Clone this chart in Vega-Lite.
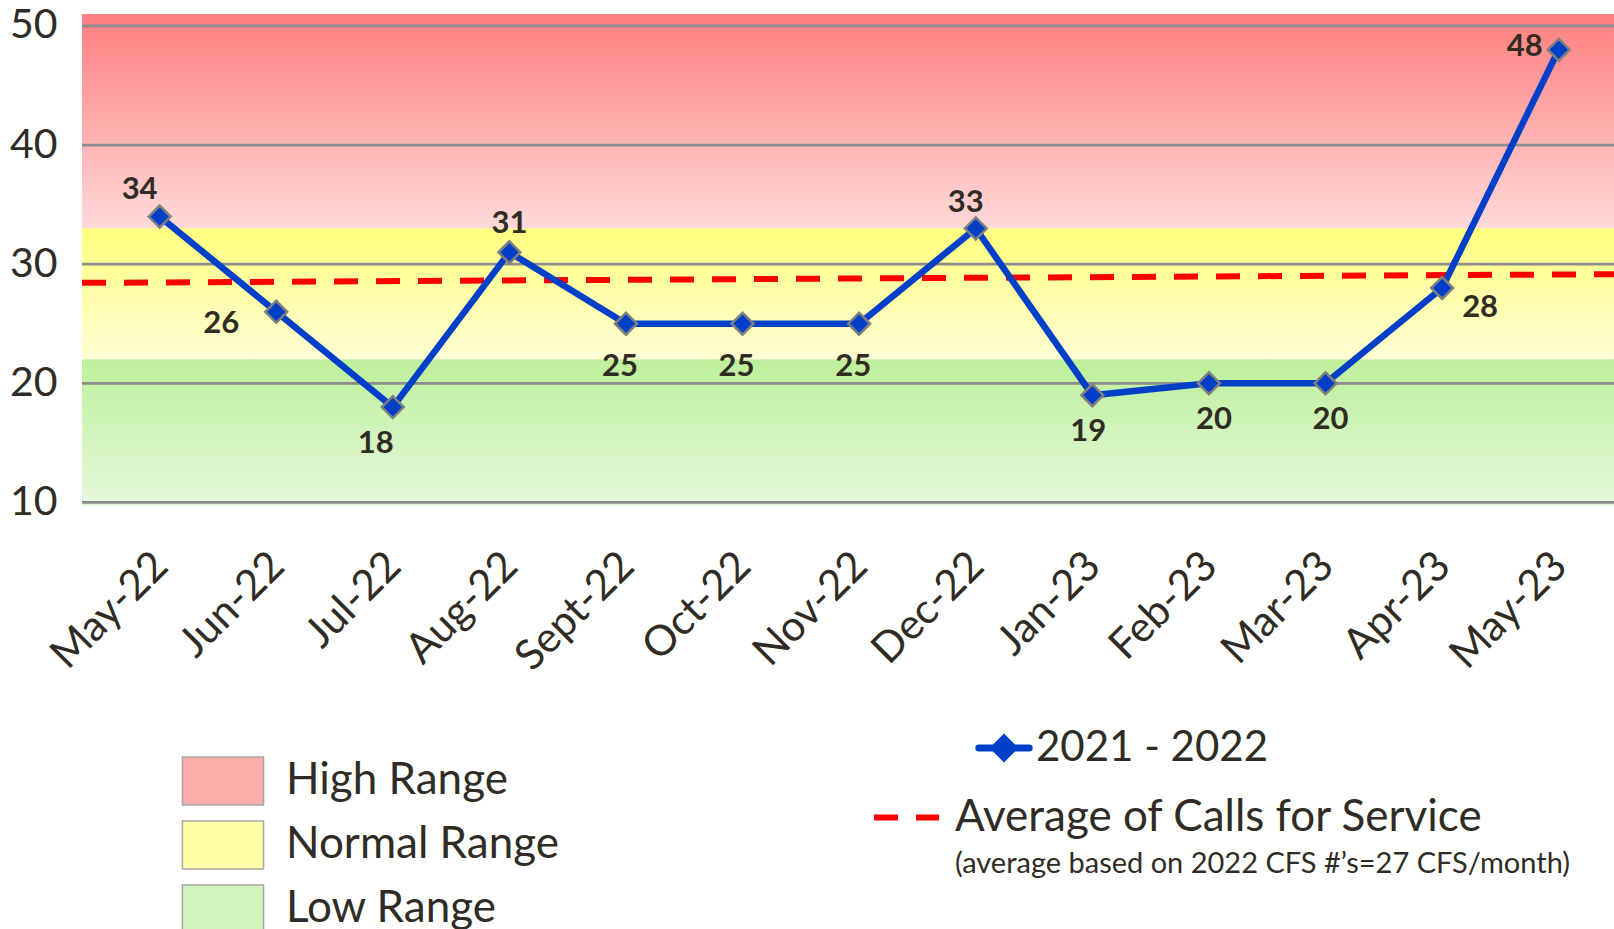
{
  "$schema": "https://vega.github.io/schema/vega-lite/v6.json",
  "width": 1532,
  "height": 492,
  "autosize": "none",
  "padding": {"left": 82, "top": 14, "right": 0, "bottom": 423},
  "background": "white",
  "config": {
    "view": {"stroke": null},
    "font": "Lato",
    "legend": {"padding": 0, "offset": 0, "labelFont": "Lato", "labelColor": "#302c25", "labelFontSize": 44, "labelLimit": 0},
    "text": {"font": "Lato", "fontSize": 31, "fontWeight": "bold", "fill": "#302c25", "align": "center", "baseline": "middle"}
  },
  "title": {
    "text": "(average based on 2022 CFS #’s=27 CFS/month)",
    "orient": "top",
    "anchor": "start",
    "frame": "group",
    "offset": 0,
    "dx": 873,
    "dy": 874,
    "fontSize": 29,
    "font": "Lato",
    "fontWeight": "normal",
    "color": "#302c25"
  },
  "datasets": {
    "calls": [
      {"month": "May-22", "value": 34},
      {"month": "Jun-22", "value": 26},
      {"month": "Jul-22", "value": 18},
      {"month": "Aug-22", "value": 31},
      {"month": "Sept-22", "value": 25},
      {"month": "Oct-22", "value": 25},
      {"month": "Nov-22", "value": 25},
      {"month": "Dec-22", "value": 33},
      {"month": "Jan-23", "value": 19},
      {"month": "Feb-23", "value": 20},
      {"month": "Mar-23", "value": 20},
      {"month": "Apr-23", "value": 28},
      {"month": "May-23", "value": 48}
    ],
    "bands": [
      {"band": "High Range", "lo": 33, "hi": 51},
      {"band": "Normal Range", "lo": 22, "hi": 33},
      {"band": "Low Range", "lo": 9.7, "hi": 22}
    ],
    "grid": [{"v": 10}, {"v": 20}, {"v": 30}, {"v": 40}, {"v": 50}],
    "avg": [{"t": 0, "avg": 28.43}, {"t": 1, "avg": 29.16}]
  },
  "layer": [
    {
      "data": {"name": "bands"},
      "mark": {"type": "rect"},
      "encoding": {
        "y": {
          "field": "hi", "type": "quantitative", "title": null,
          "scale": {"domain": [9.7, 51], "nice": false, "zero": false},
          "axis": {
            "title": null, "values": [10, 20, 30, 40, 50], "grid": false, "domain": false,
            "ticks": false, "tickSize": 0, "labelFontSize": 41, "labelFont": "Lato",
            "labelColor": "#302c25", "labelPadding": 25
          }
        },
        "y2": {"field": "lo"},
        "fill": {
          "field": "band", "type": "nominal",
          "scale": {
            "domain": ["High Range", "Normal Range", "Low Range"],
            "range": ["#ffacac", "#ffffa8", "#d2f4bb"]
          },
          "legend": {
            "title": null,
            "orient": "none",
            "legendX": 116,
            "legendY": 742,
            "symbolType": "M-1.69,-1H1.69V1H-1.69Z",
            "symbolSize": 2304,
            "rowPadding": 10,
            "labelOffset": 38,
            "labelFontSize": 44,
            "encode": {"symbols": {"update": {
              "stroke": {"value": "#a6a6a6"},
              "strokeWidth": {"value": 1.5},
              "opacity": {"value": 1}
            }}}
          }
        }
      }
    },
    {
      "data": {"name": "bands"},
      "transform": [{"filter": {"field": "band", "equal": "High Range"}}],
      "mark": {"type": "rect", "fill": {"gradient": "linear", "x1": 0, "y1": 0, "x2": 0, "y2": 1, "stops": [{"offset": 0, "color": "#ff7f7f"}, {"offset": 1, "color": "#ffd9d9"}]}},
      "encoding": {
        "y": {"field": "hi", "type": "quantitative", "title": null},
        "y2": {"field": "lo"}
      }
    },
    {
      "data": {"name": "bands"},
      "transform": [{"filter": {"field": "band", "equal": "Normal Range"}}],
      "mark": {"type": "rect", "fill": {"gradient": "linear", "x1": 0, "y1": 0, "x2": 0, "y2": 1, "stops": [{"offset": 0, "color": "#ffff7f"}, {"offset": 1, "color": "#fffdd2"}]}},
      "encoding": {
        "y": {"field": "hi", "type": "quantitative", "title": null},
        "y2": {"field": "lo"}
      }
    },
    {
      "data": {"name": "bands"},
      "transform": [{"filter": {"field": "band", "equal": "Low Range"}}],
      "mark": {"type": "rect", "fill": {"gradient": "linear", "x1": 0, "y1": 0, "x2": 0, "y2": 1, "stops": [{"offset": 0, "color": "#bdf09a"}, {"offset": 1, "color": "#e5f8dc"}]}},
      "encoding": {
        "y": {"field": "hi", "type": "quantitative", "title": null},
        "y2": {"field": "lo"}
      }
    },
    {
      "data": {"name": "grid"},
      "mark": {"type": "rule", "stroke": "#8c8c8c", "strokeWidth": 2.7},
      "encoding": {
        "y": {"field": "v", "type": "quantitative", "title": null}
      }
    },
    {
      "data": {"name": "avg"},
      "mark": {"type": "line", "stroke": "#ff0000", "strokeWidth": 6, "strokeCap": "butt"},
      "encoding": {
        "x": {"field": "t", "type": "quantitative", "scale": {"domain": [0, 1], "nice": false, "zero": false}, "axis": null},
        "y": {"field": "avg", "type": "quantitative", "title": null},
        "strokeDash": {
          "datum": "Average of Calls for Service",
          "scale": {"range": [[24, 18]]},
          "legend": {
            "title": null,
            "orient": "none",
            "legendX": 789,
            "legendY": 768,
            "symbolType": "stroke",
            "symbolSize": 4225,
            "symbolStrokeWidth": 6,
            "labelOffset": 13,
            "labelFontSize": 44,
            "encode": {"symbols": {"update": {"stroke": {"value": "#ff0000"}, "strokeWidth": {"value": 6}, "strokeDash": {"value": [24, 18]}}}}
          }
        }
      }
    },
    {
      "data": {"name": "calls"},
      "layer": [
        {
          "mark": {
            "type": "line", "strokeWidth": 6.5,
            "point": {"shape": "diamond", "filled": true, "size": 480, "stroke": "#7f7f7f", "strokeWidth": 2.5}
          },
          "encoding": {
            "x": {
              "field": "month", "type": "ordinal", "sort": null, "title": null,
              "scale": {
                "type": "point",
                "domain": ["May-22", "Jun-22", "Jul-22", "Aug-22", "Sept-22", "Oct-22", "Nov-22", "Dec-22", "Jan-23", "Feb-23", "Mar-23", "Apr-23", "May-23"],
                "padding": 0.57, "align": 0.584
              },
              "axis": {
                "title": null, "labelAngle": -45, "labelAlign": "right", "labelBaseline": "alphabetic",
                "labelFontSize": 42, "labelFont": "Lato", "labelColor": "#302c25", "labelPadding": 62,
                "labelOffset": 10, "ticks": false, "tickSize": 0, "domain": false, "grid": false,
                "labelOverlap": false, "labelBound": false, "labelFlush": false
              }
            },
            "y": {"field": "value", "type": "quantitative", "title": null},
            "color": {
              "datum": "2021 - 2022",
              "scale": {"range": ["#0040c8"]},
              "legend": {
                "title": null,
                "orient": "none",
                "legendX": 901,
                "legendY": 713,
                "symbolType": "M-2.1,0H-0.8M0.8,0H2.1M0,-0.8L0.8,0L0,0.8L-0.8,0Z",
                "symbolSize": 576,
                "labelOffset": 11,
                "labelFontSize": 42,
                "encode": {"symbols": {"update": {"stroke": {"value": "#0040c8"}, "fill": {"value": "#0040c8"}, "strokeWidth": {"value": 7}, "strokeCap": {"value": "round"}, "opacity": {"value": 1}}}}
              }
            }
          }
        },
        {
          "transform": [{"filter": {"field": "month", "oneOf": ["May-22"]}}],
          "mark": {"type": "text", "dx": -20, "dy": -27},
          "encoding": {
            "x": {"field": "month", "type": "ordinal", "sort": null, "title": null},
            "y": {"field": "value", "type": "quantitative", "title": null},
            "text": {"field": "value", "type": "quantitative"}
          }
        },
        {
          "transform": [{"filter": {"field": "month", "oneOf": ["Aug-22"]}}],
          "mark": {"type": "text", "dx": 0, "dy": -28},
          "encoding": {
            "x": {"field": "month", "type": "ordinal", "sort": null, "title": null},
            "y": {"field": "value", "type": "quantitative", "title": null},
            "text": {"field": "value", "type": "quantitative"}
          }
        },
        {
          "transform": [{"filter": {"field": "month", "oneOf": ["Dec-22"]}}],
          "mark": {"type": "text", "dx": -10, "dy": -25},
          "encoding": {
            "x": {"field": "month", "type": "ordinal", "sort": null, "title": null},
            "y": {"field": "value", "type": "quantitative", "title": null},
            "text": {"field": "value", "type": "quantitative"}
          }
        },
        {
          "transform": [{"filter": {"field": "month", "oneOf": ["Jun-22"]}}],
          "mark": {"type": "text", "dx": -55, "dy": 12},
          "encoding": {
            "x": {"field": "month", "type": "ordinal", "sort": null, "title": null},
            "y": {"field": "value", "type": "quantitative", "title": null},
            "text": {"field": "value", "type": "quantitative"}
          }
        },
        {
          "transform": [{"filter": {"field": "month", "oneOf": ["May-23"]}}],
          "mark": {"type": "text", "dx": -34, "dy": -3},
          "encoding": {
            "x": {"field": "month", "type": "ordinal", "sort": null, "title": null},
            "y": {"field": "value", "type": "quantitative", "title": null},
            "text": {"field": "value", "type": "quantitative"}
          }
        },
        {
          "transform": [{"filter": {"field": "month", "oneOf": ["Apr-23"]}}],
          "mark": {"type": "text", "dx": 38, "dy": 20},
          "encoding": {
            "x": {"field": "month", "type": "ordinal", "sort": null, "title": null},
            "y": {"field": "value", "type": "quantitative", "title": null},
            "text": {"field": "value", "type": "quantitative"}
          }
        },
        {
          "transform": [{"filter": {"field": "month", "oneOf": ["Jul-22"]}}],
          "mark": {"type": "text", "dx": -17, "dy": 37},
          "encoding": {
            "x": {"field": "month", "type": "ordinal", "sort": null, "title": null},
            "y": {"field": "value", "type": "quantitative", "title": null},
            "text": {"field": "value", "type": "quantitative"}
          }
        },
        {
          "transform": [{"filter": {"field": "month", "oneOf": ["Jan-23"]}}],
          "mark": {"type": "text", "dx": -4, "dy": 37},
          "encoding": {
            "x": {"field": "month", "type": "ordinal", "sort": null, "title": null},
            "y": {"field": "value", "type": "quantitative", "title": null},
            "text": {"field": "value", "type": "quantitative"}
          }
        },
        {
          "transform": [{"filter": {"field": "month", "oneOf": ["Feb-23", "Mar-23"]}}],
          "mark": {"type": "text", "dx": 5, "dy": 37},
          "encoding": {
            "x": {"field": "month", "type": "ordinal", "sort": null, "title": null},
            "y": {"field": "value", "type": "quantitative", "title": null},
            "text": {"field": "value", "type": "quantitative"}
          }
        },
        {
          "transform": [{"filter": {"field": "month", "oneOf": ["Sept-22", "Oct-22", "Nov-22"]}}],
          "mark": {"type": "text", "dx": -6, "dy": 43},
          "encoding": {
            "x": {"field": "month", "type": "ordinal", "sort": null, "title": null},
            "y": {"field": "value", "type": "quantitative", "title": null},
            "text": {"field": "value", "type": "quantitative"}
          }
        }
      ]
    }
  ],
  "resolve": {"scale": {"x": "independent"}}
}
